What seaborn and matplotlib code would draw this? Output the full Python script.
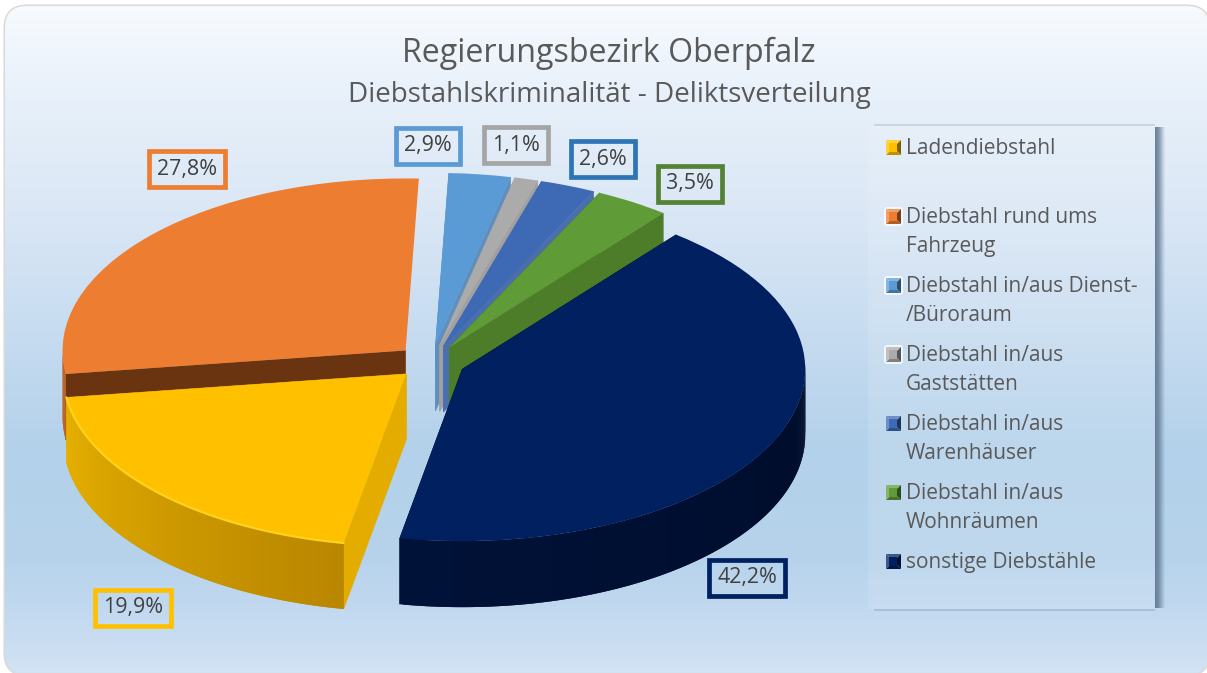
import matplotlib
matplotlib.use("Agg")
import matplotlib.pyplot as plt
import matplotlib.colors as mcolors
from matplotlib.collections import PolyCollection
from matplotlib.patches import FancyBboxPatch, Polygon, Rectangle
import numpy as np
import seaborn as sns

# chart values
title = "Regierungsbezirk Oberpfalz"
subtitle = "Diebstahlskriminalität - Deliktsverteilung"
categories = ["Ladendiebstahl\n", "Diebstahl rund ums\nFahrzeug", "Diebstahl in/aus Dienst-\n/Büroraum",
              "Diebstahl in/aus\nGaststätten", "Diebstahl in/aus\nWarenhäuser", "Diebstahl in/aus\nWohnräumen",
              "sonstige Diebstähle"]
shares = [19.9, 27.8, 2.9, 1.1, 2.6, 3.5, 42.2]
value_labels = ["19,9%", "27,8%", "2,9%", "1,1%", "2,6%", "3,5%", "42,2%"]

# colours
top_colors = ["#FFC000", "#ED7D31", "#5B9BD5", "#ABABAB", "#3E69B5", "#5F9B37", "#002060"]
frame_colors = ["#FFC000", "#ED7D31", "#5B9BD5", "#A5A5A5", "#2E75B6", "#548235", "#002060"]
wall_left = ["#E6B000", "#B9601F", "#3F79AE", "#808080", "#2F5597", "#4E7D2A", "#001238"]
wall_right = ["#B98600", "#B9601F", "#3F79AE", "#808080", "#2F5597", "#4E7D2A", "#000C2A"]
face_colors = ["#E5AC00", "#6B3410", "#5F8FBF", "#A0A0A0", "#4A6FAE", "#4E7D2A", "#001238"]
draw_rank = [5, 0, 1, 2, 3, 4, 6]

# layout in pixels
W, H = 1207, 673
pie_cx, pie_cy, pie_rx, pie_ry = 431, 362, 343, 172
depth = 66 / pie_ry
label_centers = [(133, 608), (187, 169), (428, 146), (516, 145), (603, 159), (690, 184), (747, 578)]

sns.set_theme(style="white")
plt.rcParams["font.family"] = ["Open Sans", "DejaVu Sans"]
text_color = "#595959"

fig = plt.figure(figsize=(W / 100, H / 100), dpi=100)
fig.patch.set_facecolor("white")

# background panel in pixel coordinates
ax_bg = fig.add_axes([0, 0, 1, 1], zorder=0)
ax_bg.set_xlim(0, W)
ax_bg.set_ylim(H, 0)
ax_bg.axis("off")

stop_y = [0, 100, 200, 320, 450, 560, 620, 673]
stop_c = ["#F8FBFF", "#E7F0FA", "#DCE8F6", "#C9DDF1", "#B3D1EA", "#B7D3EC", "#C4DAF0", "#D2E3F4"]
stop_rgb = np.array([mcolors.to_rgb(c) for c in stop_c])
rows = np.arange(H)
grad = np.stack([np.interp(rows, stop_y, stop_rgb[:, i]) for i in range(3)], axis=1)[:, None, :]
# filled under the gradient, only the outer half of the edge stays visible
panel = FancyBboxPatch((5, 6), 1204, 669, boxstyle="round,pad=0,rounding_size=22",
                       facecolor="white", edgecolor="#D9D9D9", linewidth=2.2, zorder=0.5, clip_on=False)
ax_bg.add_patch(panel)
img = ax_bg.imshow(grad, extent=(0, W, H, 0), aspect="auto", zorder=1)
img.set_clip_path(panel)
ax_bg.set_xlim(0, W)
ax_bg.set_ylim(H, 0)

ax_bg.text(609, 53, title, ha="center", va="center", fontsize=23.1, color=text_color, zorder=5)
ax_bg.text(609, 95, subtitle, ha="center", va="center", fontsize=20, color=text_color, zorder=5)

# legend box with its shadow
ax_bg.add_patch(Rectangle((874, 124), 281, 2, facecolor="#9DAFC4", alpha=0.4, edgecolor="none", zorder=2))
ax_bg.add_patch(Rectangle((874, 609), 281, 2, facecolor="#8FA3BA", alpha=0.45, edgecolor="none", zorder=2))
for i, a in enumerate([0.9, 0.85, 0.8, 0.75, 0.65, 0.55, 0.4, 0.3, 0.18, 0.08]):
    ax_bg.add_patch(Rectangle((1155 + i, 127), 1, 481, facecolor="#5F7690", alpha=a, edgecolor="none", zorder=2))
ax_bg.add_patch(Rectangle((868, 126), 287, 483, facecolor="white", alpha=0.12, edgecolor="none", zorder=2))

# pie axes, the limits squash the circle into the tilted ellipse
ax = fig.add_axes([0, 0, 1, 1], zorder=1)
ax.patch.set_alpha(0)
wedges, _ = ax.pie(shares, colors=top_colors, explode=[0.1] * len(shares), startangle=-100.5,
                   counterclock=False, wedgeprops={"linewidth": 0})
ax.set_aspect("auto")
ax.set_xlim(-pie_cx / pie_rx, (W - pie_cx) / pie_rx)
ax.set_ylim((pie_cy - H) / pie_ry, pie_cy / pie_ry)

for k, w in enumerate(wedges):
    base = draw_rank[k] * 10 + 2
    cx, cy = w.center
    th = np.radians(np.linspace(w.theta1, w.theta2, max(int(w.theta2 - w.theta1) * 2, 4)))
    xs, ys = cx + np.cos(th), cy + np.sin(th)

    # cut faces of the slice, the orange one only shows towards the yellow slice
    for i in ((-1,) if k == 1 else (0, -1)):
        ax.add_patch(Polygon([(cx, cy), (xs[i], ys[i]), (xs[i], ys[i] - depth), (cx, cy - depth)],
                             facecolor=face_colors[k], edgecolor=face_colors[k], linewidth=0.4, zorder=base))
    # outer wall as thin strips that overlap, shaded left to right, front half only
    last = len(th) - 1
    strips = [[(xs[i], ys[i]), (xs[min(i + 2, last)], ys[min(i + 2, last)]),
               (xs[min(i + 2, last)], ys[min(i + 2, last)] - depth), (xs[i], ys[i] - depth)]
              for i in range(last) if np.sin(th[i]) < 0.02]
    if strips:
        shades = sns.blend_palette([wall_left[k], wall_right[k]], len(strips))
        ax.add_collection(PolyCollection(strips, facecolors=shades, edgecolors="none", zorder=base + 1), autolim=False)
    w.set_zorder(base + 2)

# bright rim on the yellow slice
w = wedges[0]
th = np.radians(np.linspace(w.theta1, w.theta2, 80))
ax.plot(w.center[0] + np.cos(th), w.center[1] + np.sin(th), color="#FFD21E", lw=1.6, zorder=w.get_zorder() + 1)

# value labels
for (lx, ly), txt, c in zip(label_centers, value_labels, frame_colors):
    ax.text(lx, ly, txt, transform=ax_bg.transData, ha="center", va="center", fontsize=15.4, color="#404040",
            zorder=100, bbox=dict(boxstyle="square,pad=0.37", edgecolor=c, linewidth=3.4, fill=False))

# legend entries, y is the baseline of the first line
y = 154
for k, label in enumerate(categories):
    lines = label.split("\n")
    for j, line in enumerate(lines):
        ax_bg.text(906, y + j * 29.4, line, ha="left", va="baseline", fontsize=15, color=text_color, zorder=5)
    x0, y0, s = 886, y - 14, 15
    if k in (1, 2, 3):
        ax_bg.add_patch(FancyBboxPatch((x0 - 2, y0 - 2), s + 4, s + 4, boxstyle="round,pad=0,rounding_size=3",
                                       facecolor="white", alpha=0.75, edgecolor="none", zorder=3))
    # little bevelled square: light left and top, dark right
    base_c = top_colors[k]
    pts = [(x0, y0), (x0 + s, y0), (x0 + s, y0 + s), (x0, y0 + s)]
    mid = (x0 + s / 2, y0 + s / 2)
    to_black = sns.blend_palette([base_c, "black"], 5)
    to_white = sns.blend_palette([base_c, "white"], 5)
    shade = [to_white[1], to_black[2], to_black[1], to_white[1]]
    for a, b, sc in zip(range(4), [1, 2, 3, 0], shade):
        ax_bg.add_patch(Polygon([pts[a], pts[b], mid], facecolor=sc, edgecolor="none", zorder=4))
    ax_bg.add_patch(Rectangle((x0 + 3, y0 + 3), s - 7, s - 6, facecolor=base_c, edgecolor="none", zorder=4))
    y += 69

fig.savefig("out.png", dpi=100, facecolor="white")
